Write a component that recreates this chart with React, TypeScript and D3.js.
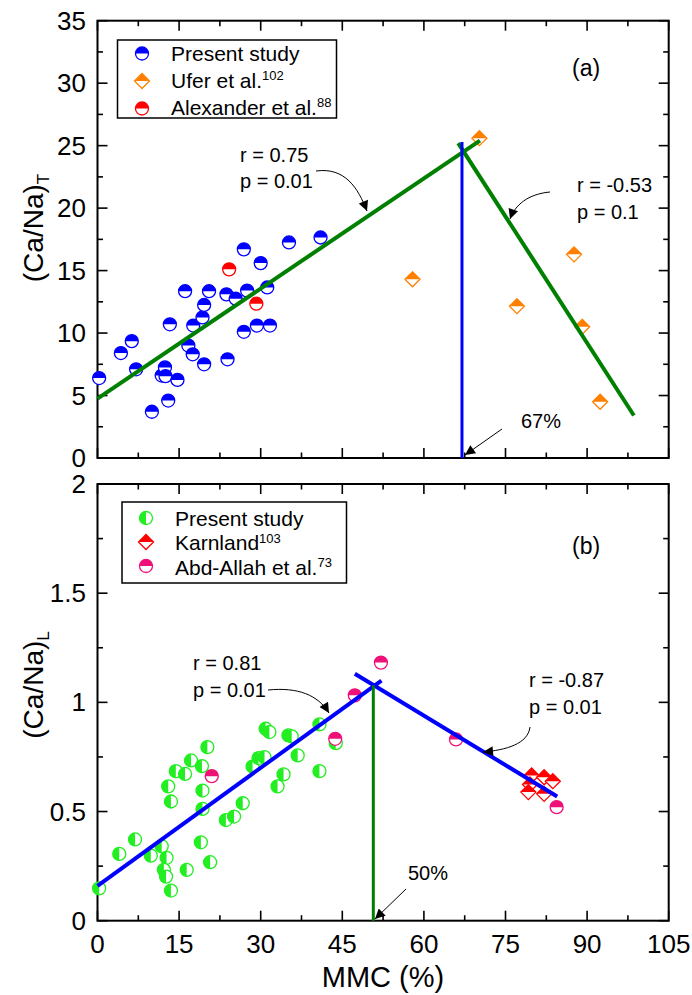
import * as d3 from "d3";

// panel (a): total Ca/Na vs MMC
const presentA: [number, number][] = [
  [0.3, 6.4], [4.3, 8.4], [6.3, 9.35], [7.1, 7.1], [10.0, 3.7], [11.8, 6.6],
  [12.4, 7.25], [12.5, 6.55], [13.0, 4.6], [13.3, 10.7], [14.7, 6.25], [16.1, 13.35],
  [16.7, 9.0], [17.5, 8.3], [17.6, 10.6], [19.3, 11.25], [19.6, 12.25], [19.6, 7.5],
  [20.5, 13.35], [23.7, 13.1], [23.9, 7.9], [25.4, 12.75], [26.9, 16.7], [26.9, 10.1],
  [27.5, 13.4], [29.3, 10.6], [30.0, 15.6], [31.2, 13.65], [31.7, 10.6], [35.2, 17.25],
  [41.0, 17.65],
];
const uferA: [number, number][] = [
  [70.2, 25.6], [57.9, 14.3], [87.6, 16.3], [77.1, 12.15], [89.1, 10.5], [92.4, 4.5],
];
const alexanderA: [number, number][] = [[24.2, 15.1], [29.2, 12.35]];
const fitUpA: [number, number][] = [[0, 4.75], [70.3, 25.4]];
const fitDownA: [number, number][] = [[66.3, 25.2], [98.6, 3.4]];
const breakA = 67;
const breakTopA = 25.3;

// panel (b): leached Ca/Na vs MMC
const presentB: [number, number][] = [
  [0.3, 0.148], [4.0, 0.306], [6.9, 0.372], [9.8, 0.298], [11.8, 0.341], [12.7, 0.288],
  [12.2, 0.233], [12.6, 0.202], [13.5, 0.138], [13.0, 0.615], [13.5, 0.546], [14.4, 0.685],
  [16.1, 0.672], [16.4, 0.233], [17.2, 0.734], [19.2, 0.708], [19.3, 0.596], [19.3, 0.512],
  [19.0, 0.359], [20.2, 0.795], [20.7, 0.268], [23.6, 0.461], [25.1, 0.477], [26.7, 0.538],
  [28.5, 0.706], [29.6, 0.745], [30.7, 0.749], [30.9, 0.879], [31.6, 0.864], [33.1, 0.615],
  [34.2, 0.67], [35.1, 0.849], [35.7, 0.844], [36.8, 0.757], [40.8, 0.685], [40.8, 0.899],
  [43.8, 0.813],
];
const karnlandB: [number, number][] = [
  [79.8, 0.665], [82.1, 0.657], [83.7, 0.639], [79.5, 0.624], [79.2, 0.589], [82.1, 0.581],
];
const abdAllahB: [number, number][] = [
  [21.0, 0.662], [43.7, 0.833], [47.3, 1.032], [52.1, 1.182], [65.9, 0.83], [84.4, 0.52],
];
const fitUpB: [number, number][] = [[0, 0.16], [52.2, 1.1]];
const fitDownB: [number, number][] = [[47.3, 1.131], [84.5, 0.569]];
const breakB = 50.7;
const breakTopB = 1.078;

const xTicks = [0, 15, 30, 45, 60, 75, 90, 105];
const yTicksA = [0, 5, 10, 15, 20, 25, 30, 35];
const yTicksB = [0, 0.5, 1, 1.5, 2];

const FONT = "'Liberation Sans', Arial, sans-serif";
const BLUE = "#0000ff";
const GREEN = "#008000";
const ORANGE = "#ff8000";
const RED = "#ff0000";
const LIME = "#22ee22";
const PINK = "#ee1177";

const x = d3.scaleLinear().domain([0, 105]).range([97.5, 668.7]);
const yA = d3.scaleLinear().domain([0, 35]).range([458, 20.7]);
const yB = d3.scaleLinear().domain([0, 2]).range([920.7, 484]);
const line = (ys: d3.ScaleLinear<number, number>) =>
  d3.line<[number, number]>().x((d) => x(d[0])).y((d) => ys(d[1]));

const R = 6.5;
const S = 7.5;

function HalfCircle({ cx, cy, color, left }: { cx: number; cy: number; color: string; left?: boolean }) {
  const d = left
    ? `M0,${-R} A${R},${R} 0 0,0 0,${R} Z`
    : `M${-R},0 A${R},${R} 0 0,1 ${R},0 Z`;
  return (
    <g transform={`translate(${cx},${cy})`}>
      <circle r={R} fill="#fff" stroke={color} strokeWidth={1.3} />
      <path d={d} fill={color} />
    </g>
  );
}

function HalfDiamond({ cx, cy, color }: { cx: number; cy: number; color: string }) {
  return (
    <g transform={`translate(${cx},${cy})`}>
      <polygon points={`0,${-S} ${S},0 0,${S} ${-S},0`} fill="#fff" stroke={color} strokeWidth={1.3} />
      <polygon points={`${-S},0 0,${-S} ${S},0`} fill={color} />
    </g>
  );
}

function Frame({ ys, top, bottom, major, minor, labels, fmt, showX }: any) {
  const left = x.range()[0];
  const right = x.range()[1];
  const xMinor = d3.range(7.5, 105, 15);
  return (
    <g stroke="#000" strokeWidth={1.6}>
      <rect x={left} y={top} width={right - left} height={bottom - top} fill="none" strokeWidth={2} />
      {xTicks.map((t) => (
        <g key={"xm" + t}>
          <line x1={x(t)} x2={x(t)} y1={bottom} y2={bottom - 10} />
          <line x1={x(t)} x2={x(t)} y1={top} y2={top + 10} />
        </g>
      ))}
      {xMinor.map((t) => (
        <g key={"xn" + t}>
          <line x1={x(t)} x2={x(t)} y1={bottom} y2={bottom - 5.5} />
          <line x1={x(t)} x2={x(t)} y1={top} y2={top + 5.5} />
        </g>
      ))}
      {major.map((t: number) => (
        <g key={"ym" + t}>
          <line x1={left} x2={left + 10} y1={ys(t)} y2={ys(t)} />
          <line x1={right} x2={right - 10} y1={ys(t)} y2={ys(t)} />
        </g>
      ))}
      {minor.map((t: number) => (
        <g key={"yn" + t}>
          <line x1={left} x2={left + 5.5} y1={ys(t)} y2={ys(t)} />
          <line x1={right} x2={right - 5.5} y1={ys(t)} y2={ys(t)} />
        </g>
      ))}
      <g stroke="none" fill="#000" fontSize={26} fontFamily={FONT}>
        {labels.map((t: number) => (
          <text key={"yl" + t} x={86} y={ys(t) + 9} textAnchor="end">
            {fmt(t)}
          </text>
        ))}
        {showX &&
          xTicks.map((t) => (
            <text key={"xl" + t} x={x(t)} y={953} textAnchor="middle">
              {t}
            </text>
          ))}
      </g>
    </g>
  );
}

export default function App() {
  const minorA = d3.range(2.5, 35, 5);
  const minorB = d3.range(0.25, 2, 0.5);
  return (
    <svg width={692} height={995} style={{ position: "absolute", left: 0, top: 0, background: "#fff" }} fontFamily={FONT}>
      <defs>
        <marker id="ah" viewBox="0 0 10 10" refX={10} refY={5} markerWidth={12} markerHeight={10} markerUnits="userSpaceOnUse" orient="auto">
          <path d="M0,0 L10,5 L0,10 Z" fill="#000" />
        </marker>
      </defs>

      {/* panel (a) */}
      <Frame ys={yA} top={yA(35)} bottom={yA(0)} major={yTicksA} minor={minorA} labels={yTicksA} fmt={(t: number) => t} />
      {presentA.map((d, i) => <HalfCircle key={"pa" + i} cx={x(d[0])} cy={yA(d[1])} color={BLUE} />)}
      {alexanderA.map((d, i) => <HalfCircle key={"al" + i} cx={x(d[0])} cy={yA(d[1])} color={RED} />)}
      {uferA.map((d, i) => <HalfDiamond key={"uf" + i} cx={x(d[0])} cy={yA(d[1])} color={ORANGE} />)}
      <path d={line(yA)(fitUpA) || ""} stroke={GREEN} strokeWidth={4} fill="none" />
      <path d={line(yA)(fitDownA) || ""} stroke={GREEN} strokeWidth={4} fill="none" />
      <line x1={x(breakA)} x2={x(breakA)} y1={yA(0)} y2={yA(breakTopA)} stroke={BLUE} strokeWidth={3} />

      <g fontSize={20} fill="#000">
        <text x={240} y={162}>r = 0.75</text>
        <text x={240} y={188}>p = 0.01</text>
        <text x={577} y={192}>r = -0.53</text>
        <text x={577} y={219}>p = 0.1</text>
        <text x={521} y={428}>67%</text>
      </g>
      <text x={572} y={76} fontSize={23}>(a)</text>
      <g fill="none" stroke="#000" strokeWidth={1}>
        <path d="M316,171 C345,167 358,188 367,211" markerEnd="url(#ah)" />
        <path d="M550,192 C528,194 515,205 510,219" markerEnd="url(#ah)" />
        <path d="M502,429 L465,455" markerEnd="url(#ah)" />
      </g>

      <g>
        <rect x={117.5} y={40} width={219} height={78} fill="#fff" stroke="#000" strokeWidth={1.5} />
        <HalfCircle cx={142} cy={53.5} color={BLUE} />
        <HalfDiamond cx={142} cy={81} color={ORANGE} />
        <HalfCircle cx={142} cy={108.5} color={RED} />
        <g fontSize={21}>
          <text x={171} y={61}>Present study</text>
          <text x={171} y={88}>Ufer et al.<tspan fontSize={13} dy={-8}>102</tspan></text>
          <text x={171} y={115}>Alexander et al.<tspan fontSize={13} dy={-8}>88</tspan></text>
        </g>
      </g>

      {/* panel (b) */}
      <Frame ys={yB} top={yB(2)} bottom={yB(0)} major={yTicksB} minor={minorB} labels={yTicksB} fmt={(t: number) => String(t)} showX />
      {presentB.map((d, i) => <HalfCircle key={"pb" + i} cx={x(d[0])} cy={yB(d[1])} color={LIME} left />)}
      {abdAllahB.map((d, i) => <HalfCircle key={"ab" + i} cx={x(d[0])} cy={yB(d[1])} color={PINK} />)}
      {karnlandB.map((d, i) => <HalfDiamond key={"ka" + i} cx={x(d[0])} cy={yB(d[1])} color={RED} />)}
      <path d={line(yB)(fitUpB) || ""} stroke={BLUE} strokeWidth={4} fill="none" />
      <path d={line(yB)(fitDownB) || ""} stroke={BLUE} strokeWidth={4} fill="none" />
      <line x1={x(breakB)} x2={x(breakB)} y1={yB(0)} y2={yB(breakTopB)} stroke={GREEN} strokeWidth={3} />

      <g fontSize={20} fill="#000">
        <text x={193} y={670}>r = 0.81</text>
        <text x={193} y={697}>p = 0.01</text>
        <text x={529} y={687}>r = -0.87</text>
        <text x={529} y={714}>p = 0.01</text>
        <text x={408} y={880}>50%</text>
      </g>
      <text x={572} y={554} fontSize={23}>(b)</text>
      <g fill="none" stroke="#000" strokeWidth={1}>
        <path d="M268,690 C298,687 318,695 329,713" markerEnd="url(#ah)" />
        <path d="M530,727 C528,744 506,750 483,752" markerEnd="url(#ah)" />
        <path d="M406,889 L375,919" markerEnd="url(#ah)" />
      </g>

      <g>
        <rect x={122} y={502} width={224.5} height={81} fill="#fff" stroke="#000" strokeWidth={1.5} />
        <HalfCircle cx={146} cy={518} color={LIME} left />
        <HalfDiamond cx={146} cy={542} color={RED} />
        <HalfCircle cx={146} cy={566} color={PINK} />
        <g fontSize={21}>
          <text x={175} y={526}>Present study</text>
          <text x={175} y={550}>Karnland<tspan fontSize={13} dy={-7}>103</tspan></text>
          <text x={175} y={575}>Abd-Allah et al.<tspan fontSize={13} dy={-8}>73</tspan></text>
        </g>
      </g>

      {/* axis titles */}
      <text transform="translate(43,228) rotate(-90)" fontSize={28} textAnchor="middle">
        (Ca/Na)<tspan fontSize={17} dy={6}>T</tspan>
      </text>
      <text transform="translate(43,685) rotate(-90)" fontSize={28} textAnchor="middle">
        (Ca/Na)<tspan fontSize={17} dy={6}>L</tspan>
      </text>
      <text x={383} y={987} fontSize={29} textAnchor="middle">MMC (%)</text>
    </svg>
  );
}
